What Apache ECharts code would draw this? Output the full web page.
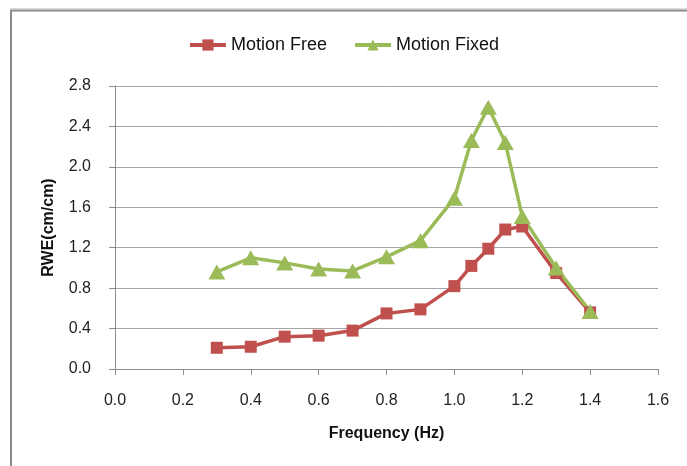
<!DOCTYPE html>
<html><head><meta charset="utf-8">
<script src="https://cdn.jsdelivr.net/npm/echarts@6/dist/echarts.min.js"></script>
<style>html,body{margin:0;padding:0;background:#fff}#c{width:687px;height:466px}</style>
</head><body><div id="c"></div>
<script>
const frequency = [0.3, 0.4, 0.5, 0.6, 0.7, 0.8, 0.9, 1.0, 1.05, 1.1, 1.15, 1.2, 1.3, 1.4];
const motionFree = [0.21, 0.22, 0.32, 0.33, 0.38, 0.55, 0.59, 0.82, 1.02, 1.19, 1.38, 1.41, 0.95, 0.56];
const fixedFreq = [0.3, 0.4, 0.5, 0.6, 0.7, 0.8, 0.9, 1.0, 1.05, 1.1, 1.15, 1.2, 1.3, 1.4];
const motionFixed = [0.96, 1.10, 1.05, 0.99, 0.97, 1.11, 1.27, 1.69, 2.26, 2.59, 2.24, 1.51, 1.00, 0.57];
const seriesNames = ['Motion Free', 'Motion Fixed'];
const xName = 'Frequency (Hz)';
const yName = 'RWE(cm/cm)';

const font = '"Liberation Sans", Arial, sans-serif';
const chart = echarts.init(document.getElementById('c'), null, {renderer: 'canvas'});
chart.setOption({
  animation: false,
  textStyle: {fontFamily: font},
  graphic: [
    {type: 'line', shape: {x1: 10, y1: 10.5, x2: 687, y2: 10.5}, style: {stroke: '#8a8a8a', lineWidth: 2}},
    {type: 'line', shape: {x1: 10, y1: 8.5, x2: 687, y2: 8.5}, style: {stroke: '#dcdcdc', lineWidth: 1}},
    {type: 'line', shape: {x1: 11, y1: 10, x2: 11, y2: 466}, style: {stroke: '#8a8a8a', lineWidth: 2}}
  ],
  legend: {
    top: 31, left: 'center',
    itemWidth: 36, itemHeight: 14, itemGap: 26,
    lineStyle: {width: 4},
    textStyle: {fontFamily: font, fontSize: 18, color: '#111'},
    data: seriesNames
  },
  grid: {left: 115, right: 29, top: 86, bottom: 97, containLabel: false},
  xAxis: {
    type: 'value', min: 0, max: 1.6, interval: 0.2,
    name: xName, nameLocation: 'middle', nameGap: 57,
    nameTextStyle: {fontFamily: font, fontSize: 16, fontWeight: 'bold', color: '#111'},
    axisLine: {show: true, lineStyle: {color: '#8c8c8c', width: 1}},
    axisTick: {show: true, inside: false, length: 6, lineStyle: {color: '#8c8c8c'}},
    axisLabel: {fontFamily: font, fontSize: 16, color: '#222', margin: 24, formatter: v => v.toFixed(1)},
    splitLine: {show: false}
  },
  yAxis: {
    type: 'value', min: 0, max: 2.8, interval: 0.4,
    name: yName, nameLocation: 'middle', nameGap: 58, nameRotate: 90,
    nameTextStyle: {fontFamily: font, fontSize: 16, fontWeight: 'bold', color: '#111'},
    axisLine: {show: true, lineStyle: {color: '#8c8c8c', width: 1}},
    axisTick: {show: true, inside: false, length: 6, lineStyle: {color: '#8c8c8c'}},
    axisLabel: {fontFamily: font, fontSize: 16, color: '#222', margin: 24, formatter: v => v.toFixed(1)},
    splitLine: {show: true, lineStyle: {color: '#a6a6a6', width: 1}}
  },
  series: [
    {
      name: seriesNames[0], type: 'line',
      data: frequency.map((f, i) => [f, motionFree[i]]),
      symbol: 'rect', symbolSize: 12,
      lineStyle: {color: '#C0504D', width: 3.5},
      itemStyle: {color: '#C0504D'}
    },
    {
      name: seriesNames[1], type: 'line',
      data: fixedFreq.map((f, i) => [f, motionFixed[i]]),
      symbol: 'triangle', symbolSize: [17, 15],
      lineStyle: {color: '#9BBB59', width: 3.5},
      itemStyle: {color: '#9BBB59'}
    }
  ]
});
</script></body></html>
